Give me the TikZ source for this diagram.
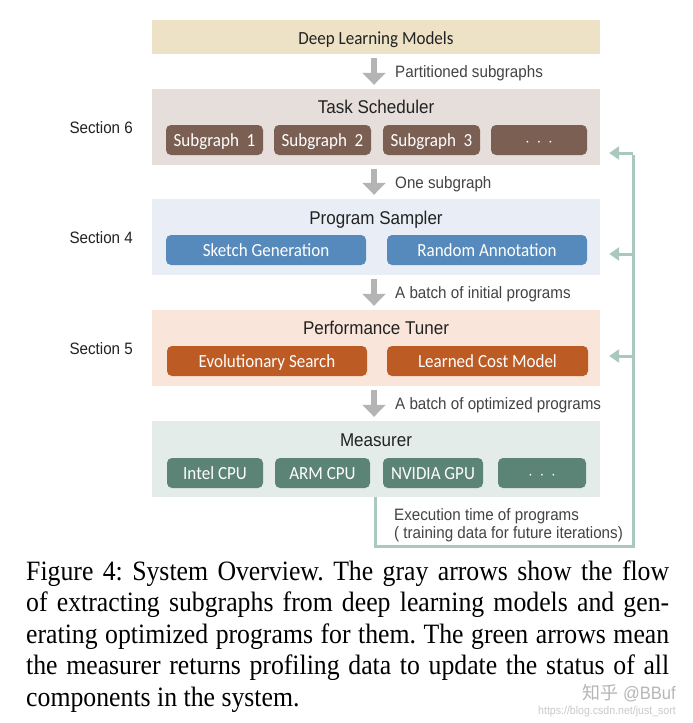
\documentclass[tikz,border=0pt]{standalone}
\usepackage{fontspec}
\setmainfont{Liberation Serif}
\newfontfamily\labfont[FakeStretch=0.92]{Liberation Sans}
\newfontfamily\boxfont[FakeStretch=0.92]{Carlito}
\newfontfamily\capfont[FakeStretch=0.92]{Liberation Serif}
\newfontfamily\cjkfont{Noto Sans CJK SC}
\usetikzlibrary{arrows.meta,calc}
\frenchspacing
\definecolor{dlmbg}{HTML}{EDE1C6}
\definecolor{tsbg}{HTML}{E5DEDB}
\definecolor{tsfg}{HTML}{7B5F53}
\definecolor{psbg}{HTML}{E9EEF6}
\definecolor{psfg}{HTML}{578ABC}
\definecolor{ptbg}{HTML}{F9E5D9}
\definecolor{ptfg}{HTML}{BD5B25}
\definecolor{mebg}{HTML}{E4ECEA}
\definecolor{mefg}{HTML}{5B8376}
\definecolor{grayarr}{HTML}{B4B4B4}
\definecolor{fbcol}{HTML}{A9C9BF}
\definecolor{txt}{HTML}{222222}
\definecolor{wm}{HTML}{CACACA}
\tikzset{
  panel/.style={inner sep=0pt, minimum width=448pt, minimum height=76pt},
  title/.style={inner sep=0pt, text height=13pt, text depth=0pt, text=txt, font=\labfont\fontsize{18.5}{20}\selectfont},
  sub/.style={rounded corners=5pt, inner sep=0pt, text height=12pt, text depth=0pt, minimum height=30pt, text=white, font=\boxfont\fontsize{18.5}{20}\selectfont},
  flow/.style={draw=grayarr, line width=6.5pt, -{Triangle[width=23pt,length=12pt]}},
  flowlab/.style={anchor=west, inner sep=0pt, text height=11.5pt, text depth=0pt, text=txt!85!white, font=\labfont\fontsize{16.5}{18}\selectfont},
  seclab/.style={anchor=east, inner sep=0pt, text height=11.5pt, text depth=0pt, text=txt, font=\labfont\fontsize{16.5}{18}\selectfont},
  fb/.style={draw=fbcol, line width=3pt},
  fbarrow/.style={draw=fbcol, line width=3pt, -{Triangle[width=13pt,length=10pt]}},
  capline/.style={anchor=base west, inner sep=0pt, font=\capfont\fontsize{28}{31}\selectfont}
}
\begin{document}
\begin{tikzpicture}[x=1pt,y=-1pt]
\useasboundingbox[fill=white] (0,0) rectangle (693,723);

% panels
\node[panel, fill=dlmbg, minimum height=34pt] (dlm) at (376,37) {};
\node[inner sep=0pt, text height=12pt, text depth=0pt, text=txt, font=\boxfont\fontsize{18.5}{20}\selectfont] (dlmt) at (376,38) {Deep Learning Models};
\node[panel, fill=tsbg] (ts) at (376,127) {};
\node[panel, fill=psbg] (ps) at (376,237) {};
\node[panel, fill=ptbg] (pt) at (376,348) {};
\node[panel, fill=mebg] (me) at (376,459) {};

% titles
\node[title] (tst) at (376,107) {Task Scheduler};
\node[title] (pst) at (376,218) {Program Sampler};
\node[title] (ptt) at (376,328) {Performance Tuner};
\node[title] (met) at (376,440) {Measurer};

% section labels
\node[seclab] (s6) at (133,128) {Section 6};
\node[seclab] (s4) at (133,238) {Section 4};
\node[seclab] (s5) at (133,349) {Section 5};

% task scheduler sub-boxes
\node[sub, fill=tsfg, minimum width=97pt] (sg1) at (214.5,140) {Subgraph\ \ 1};
\node[sub, fill=tsfg, minimum width=97pt] (sg2) at (322.5,140) {Subgraph\ \ 2};
\node[sub, fill=tsfg, minimum width=97pt] (sg3) at (431.5,140) {Subgraph\ \ 3};
\node[sub, fill=tsfg, minimum width=96pt] (sg4) at (539,140) {$\cdot\,\cdot\,\cdot$};

% program sampler
\node[sub, fill=psfg, minimum width=200pt] (sk) at (266,250) {Sketch Generation};
\node[sub, fill=psfg, minimum width=200pt] (ra) at (487,250) {Random Annotation};

% performance tuner
\node[sub, fill=ptfg, minimum width=200pt] (es) at (267,361) {Evolutionary Search};
\node[sub, fill=ptfg, minimum width=201pt] (lc) at (487.5,361) {Learned Cost Model};

% measurer
\node[sub, fill=mefg, minimum width=96pt] (ic) at (215,473) {Intel CPU};
\node[sub, fill=mefg, minimum width=95pt] (ac) at (322.5,473) {ARM CPU};
\node[sub, fill=mefg, minimum width=100pt] (ng) at (433,473) {NVIDIA GPU};
\node[sub, fill=mefg, minimum width=88pt] (md) at (542,473) {$\cdot\,\cdot\,\cdot$};

% gray flow arrows
\draw[flow] ($(dlm.south)+(-2,4)$) -- ($(ts.north)+(-2,-4)$)
  coordinate[pos=0.5] (m1);
\draw[flow] ($(ts.south)+(-2,4)$) -- ($(ps.north)+(-2,-4)$)
  coordinate[pos=0.5] (m2);
\draw[flow] ($(ps.south)+(-2,4)$) -- ($(pt.north)+(-2,-4)$)
  coordinate[pos=0.5] (m3);
\draw[flow] ($(pt.south)+(-2,4)$) -- ($(me.north)+(-2,-4)$)
  coordinate[pos=0.5] (m4);
\node[flowlab] (l1) at ($(m1)+(21,0.5)$) {Partitioned subgraphs};
\node[flowlab] (l2) at ($(m2)+(21,0.5)$) {One subgraph};
\node[flowlab] (l3) at ($(m3)+(21,0.5)$) {A batch of initial programs};
\node[flowlab] (l4) at ($(m4)+(21,0.5)$) {A batch of optimized programs};

% feedback
\coordinate (fbc) at (633,546);
\coordinate (fb1) at (633,153);
\coordinate (fb2) at (633,254);
\coordinate (fb3) at (633,356);
\draw[fb] ([xshift=-1pt]me.south) |- (fbc) -- ([yshift=-1.5pt]fb1);
\draw[fbarrow] (fb1) -- ($(ts.east|-fb1)+(9,0)$);
\draw[fbarrow] (fb2) -- ($(ps.east|-fb2)+(9,0)$);
\draw[fbarrow] (fb3) -- ($(pt.east|-fb3)+(9,0)$);
\node[anchor=north west, inner sep=0pt, align=left, text=txt!85!white,
  font=\labfont\fontsize{16.5}{18}\selectfont] (ex) at (394,508)
  {Execution time of programs\\( training data for future iterations)};

% caption
\node[capline] (c1) at (26,580) {\makebox[643pt][s]{Figure 4: System Overview. The gray arrows show the flow}};
\node[capline] (c2) at (26,611.5) {\makebox[643pt][s]{of extracting subgraphs from deep learning models and gen-}};
\node[capline] (c3) at (26,643) {\makebox[643pt][s]{erating optimized programs for them. The green arrows mean}};
\node[capline] (c4) at (26,674.5) {\makebox[643pt][s]{the measurer returns profiling data to update the status of all}};
\node[capline] (c5) at (26,706) {components in the system.};

% watermark
\node[anchor=base east, inner sep=0pt, text=wm, font=\labfont\fontsize{11.5}{13}\selectfont] (w2) at (676,714) {https://blog.csdn.net/just\_sort};
\node[anchor=base east, inner sep=0pt, text=wm!90!black, font=\fontsize{18}{20}\selectfont] (w1) at (676,699) {{\cjkfont 知乎} {\labfont @BBuf}};
\end{tikzpicture}
\end{document}
